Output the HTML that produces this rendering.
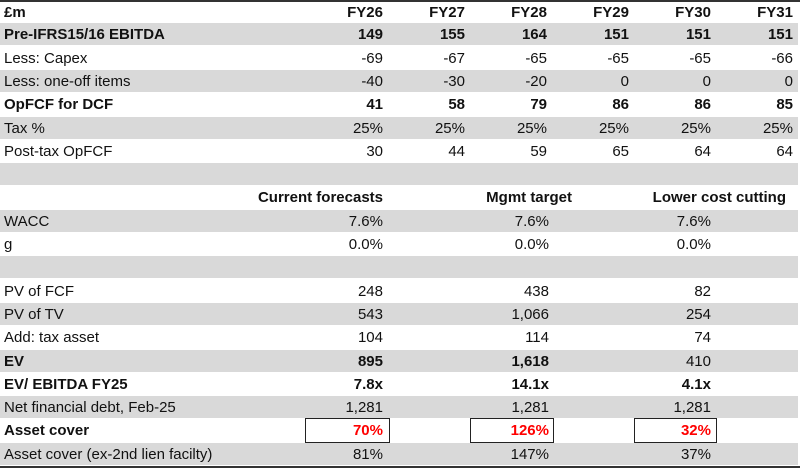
<!DOCTYPE html>
<html><head><style>
body{margin:0;width:800px;height:468px;background:#fff;position:relative;overflow:hidden;font-family:"Liberation Sans",Arial,sans-serif;font-size:15px;color:#111}
.r{position:absolute;left:0;width:798px;height:22px;line-height:23px}
.g{background:#d9d9d9}
.b{font-weight:bold}
.c{position:absolute;top:0;text-align:right;white-space:nowrap}
.l{position:absolute;left:4px;top:0}
.box{position:absolute;border:1.5px solid #222;height:25px;top:418px;box-sizing:border-box}
.red{color:#f00}
</style></head><body>
<div style="position:absolute;left:0;top:0;width:800px;height:2px;background:#333"></div>
<div style="position:absolute;left:0;top:466px;width:800px;height:2px;background:#333"></div>
<div id="t"></div>
<div class="box" style="left:305px;width:85px"></div>
<div class="box" style="left:470px;width:84px"></div>
<div class="box" style="left:634px;width:83px"></div>
<script>
const rows=[
["£m",["FY26","FY27","FY28","FY29","FY30","FY31"],1,0,1],
["Pre-IFRS15/16 EBITDA",["149","155","164","151","151","151"],1,1,1],
["Less: Capex",["-69","-67","-65","-65","-65","-66"],0,0,1],
["Less: one-off items",["-40","-30","-20","0","0","0"],0,1,1],
["OpFCF for DCF",["41","58","79","86","86","85"],1,0,1],
["Tax %",["25%","25%","25%","25%","25%","25%"],0,1,1],
["Post-tax OpFCF",["30","44","59","65","64","64"],0,0,1],
["",[],0,1,1],
["",["Current forecasts","Mgmt target","Lower cost cutting"],1,0,3],
["WACC",["7.6%","7.6%","7.6%"],0,1,2],
["g",["0.0%","0.0%","0.0%"],0,0,2],
["",[],0,1,2],
["PV of FCF",["248","438","82"],0,0,2],
["PV of TV",["543","1,066","254"],0,1,2],
["Add: tax asset",["104","114","74"],0,0,2],
["EV",["<b>895</b>","<b>1,618</b>","410"],1,1,2],
["EV/ EBITDA FY25",["7.8x","14.1x","4.1x"],1,0,2],
["Net financial debt, Feb-25",["1,281","1,281","1,281"],0,1,2],
["Asset cover",["<span class=red>70%</span>","<span class=red>126%</span>","<span class=red>32%</span>"],1,0,2],
["Asset cover (ex-2nd lien facilty)",["81%","147%","37%"],0,1,2]];
const R={1:[385,467,549,631,713,795],2:[385,551,713],3:[385,574,788]};
let h="";
rows.forEach((r,i)=>{
 const top=(i*23.3+(i==0?1:0)).toFixed(1);
 h+=`<div class="r${r[3]?' g':''}" style="top:${top}px"><span class="l${r[2]?' b':''}">${r[0]}</span>`;
 r[1].forEach((v,j)=>{const x=R[r[4]][j];
  const bold=r[2]&&r[0]!="EV";
  h+=`<span class="c${bold?' b':''}" style="right:${800-x}px">${v}</span>`;});
 h+="</div>";
});
document.getElementById("t").innerHTML=h;
</script>
</body></html>
